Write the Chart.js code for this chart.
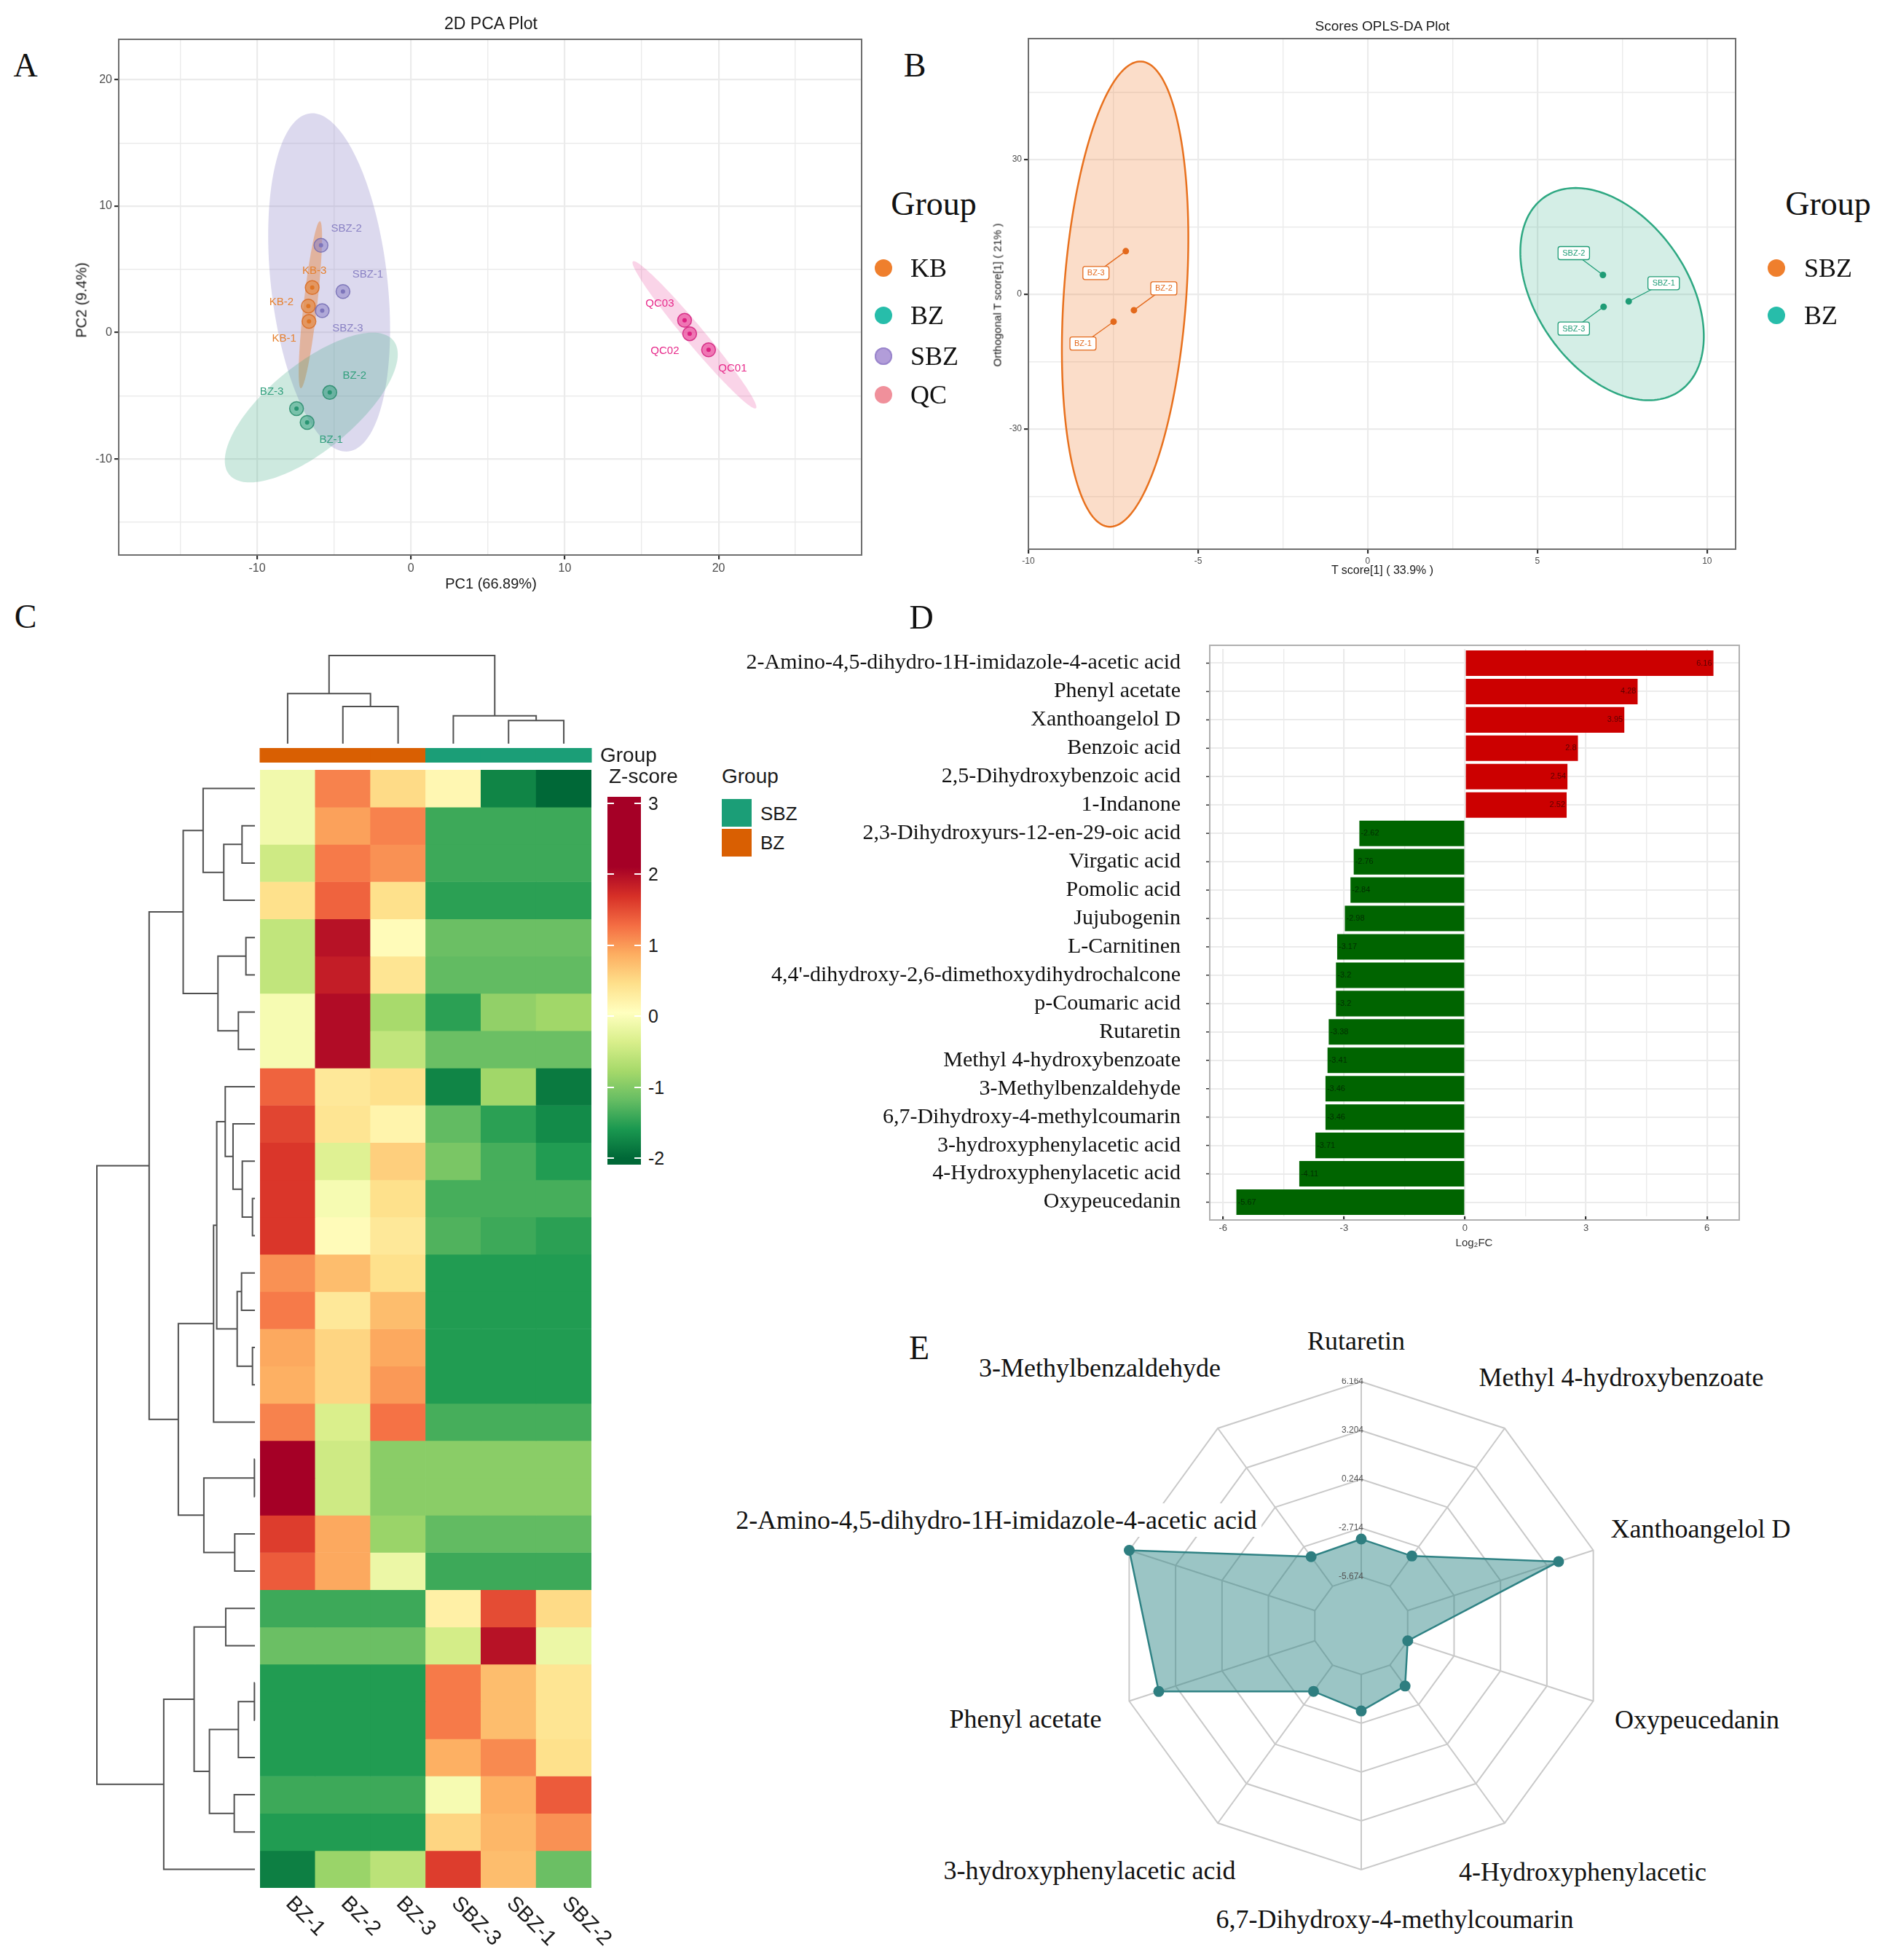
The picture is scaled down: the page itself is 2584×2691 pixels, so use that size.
<!DOCTYPE html>
<html>
<head>
<meta charset="utf-8">
<title>PCA / OPLS-DA / heatmap / fold change / radar</title>
<script src="https://cdn.jsdelivr.net/npm/chart.js@4.4.1/dist/chart.umd.min.js"></script>
<style>
  html, body { margin: 0; padding: 0; background: #fff; }
  #page { position: relative; width: 2584px; height: 2691px; overflow: hidden; background: #fff; }
  #page canvas { position: absolute; }
  .t { position: absolute; white-space: nowrap; line-height: 1; }
</style>
</head>
<body>
<div id="page"></div>
<script>
var SANS = "'Liberation Sans', Arial, Helvetica, sans-serif";
var SERIF = "'Liberation Serif', 'Times New Roman', serif";

// ---- A: 2D PCA scores ----
var pcaGroups = ['KB', 'BZ', 'SBZ', 'QC'];
var kbSamples = ['KB-1', 'KB-2', 'KB-3'];
var kbPC1 = [-6.63, -6.67, -6.42];
var kbPC2 = [0.88, 2.10, 3.56];
var bzSamples = ['BZ-1', 'BZ-2', 'BZ-3'];
var bzPC1 = [-6.75, -5.28, -7.44];
var bzPC2 = [-7.11, -4.74, -6.02];
var sbzSamples = ['SBZ-1', 'SBZ-2', 'SBZ-3'];
var sbzPC1 = [-4.42, -5.85, -5.77];
var sbzPC2 = [3.25, 6.90, 1.73];
var qcSamples = ['QC01', 'QC02', 'QC03'];
var qcPC1 = [19.35, 18.12, 17.79];
var qcPC2 = [-1.37, -0.09, 0.97];
var pcaTicksX = [-15, -10, -5, 0, 5, 10, 15, 20, 25];
var pcaTicksY = [-15, -10, -5, 0, 5, 10, 15, 20];
// confidence ellipses: centre and two conjugate half axes, in PC units
var pcaEllCentre = {KB: [-6.54, 2.20], BZ: [-6.48, -5.93], SBZ: [-5.32, 3.97], QC: [18.43, -0.18]};
var pcaEllU = {KB: [-0.62, -6.61], BZ: [-5.34, -5.30], SBZ: [1.25, -13.37], QC: [4.0, -5.81]};
var pcaEllV = {KB: [0.44, -0.06], BZ: [1.76, -2.65], SBZ: [3.76, 0.53], QC: [0.47, 0.48]};

// ---- B: OPLS-DA scores ----
var oplsGroups = ['SBZ', 'BZ'];
var oplsBzSamples = ['BZ-1', 'BZ-2', 'BZ-3'];
var oplsBzT = [-7.49, -6.89, -7.13];
var oplsBzO = [-6.14, -3.58, 9.56];
var oplsSbzSamples = ['SBZ-1', 'SBZ-2', 'SBZ-3'];
var oplsSbzT = [7.69, 6.93, 6.95];
var oplsSbzO = [-1.62, 4.27, -2.82];
var oplsTicksX = [-10, -7.5, -5, -2.5, 0, 2.5, 5, 7.5, 10];
var oplsTicksY = [-45, -30, -15, 0, 15, 30, 45];
var oplsEllCentre = {BZ: [-7.15, 0.0], SBZ: [7.2, 0.0]};
var oplsEllU = {BZ: [-0.48, -51.8], SBZ: [1.99, -21.6]};
var oplsEllV = {BZ: [1.80, -0.95], SBZ: [1.83, 9.6]};

// ---- C: heatmap (z-scores, rows top to bottom) ----
var hmSamples = ['BZ-1', 'BZ-2', 'BZ-3', 'SBZ-3', 'SBZ-1', 'SBZ-2'];
var hmGroup = ['BZ', 'BZ', 'BZ', 'SBZ', 'SBZ', 'SBZ'];
var zBZ1 = [-0.1, -0.1, -0.45, 0.45, -0.55, -0.55, -0.05, -0.05, 1.35, 1.55, 1.65, 1.65, 1.65, 1.05, 1.2, 0.9, 0.85, 1.15, 2.3, 2.3, 1.6, 1.4, -1.4, -1.15, -1.55, -1.55, -1.55, -1.4, -1.55, -1.8];
var zBZ2 = [1.15, 0.95, 1.2, 1.35, 1.95, 1.85, 2.0, 2.0, 0.35, 0.4, -0.3, -0.05, 0.1, 0.75, 0.35, 0.55, 0.55, -0.35, -0.45, -0.45, 0.9, 0.9, -1.4, -1.15, -1.55, -1.55, -1.55, -1.4, -1.55, -0.85];
var zBZ3 = [0.5, 1.15, 1.05, 0.45, 0.1, 0.4, -0.75, -0.55, 0.45, 0.2, 0.6, 0.45, 0.35, 0.45, 0.75, 0.9, 1.0, 1.25, -0.95, -0.95, -0.85, -0.15, -1.4, -1.15, -1.55, -1.55, -1.55, -1.4, -1.55, -0.6];
var zSBZ3 = [0.15, -1.4, -1.4, -1.5, -1.15, -1.2, -1.5, -1.15, -1.75, -1.2, -1.05, -1.35, -1.3, -1.55, -1.55, -1.55, -1.55, -1.35, -0.95, -0.95, -1.2, -1.4, 0.25, -0.4, 1.2, 1.2, 0.85, -0.05, 0.55, 1.6];
var zSBZ1 = [-1.75, -1.4, -1.4, -1.5, -1.15, -1.2, -0.9, -1.15, -0.8, -1.5, -1.35, -1.35, -1.4, -1.55, -1.55, -1.55, -1.55, -1.35, -0.95, -0.95, -1.2, -1.4, 1.5, 1.95, 0.75, 0.75, 1.1, 0.85, 0.8, 0.75];
var zSBZ2 = [-2.0, -1.4, -1.4, -1.5, -1.15, -1.2, -0.8, -1.15, -1.85, -1.7, -1.55, -1.35, -1.5, -1.55, -1.55, -1.55, -1.55, -1.35, -0.95, -0.95, -1.2, -1.4, 0.5, -0.15, 0.4, 0.4, 0.45, 1.4, 1.05, -1.15];
var zTicks = [3, 2, 1, 0, -1, -2];
// hclust style merges: negative = leaf number, positive = earlier merge
var rowMergeA = [-19, -25, -12, -16, -5, -11, -2, -14, -7, 2, 8, -21, -28, -10, -23, -9, 7, 5, 16, 19, 10, 1, -1, 15, 23, 20, 24, 25, 28];
var rowMergeB = [-20, -26, -13, -17, -6, 3, -3, -15, -8, -27, 4, -22, -29, 6, -24, 14, -4, 9, 11, -18, 13, 12, 17, 21, 18, 22, -30, 26, 27];
var rowMergeH = [2, 2, 10, 10, 37, 52, 53, 55, 68, 68, 73, 83, 85, 90, 120, 122, 128, 152, 157, 170, 187, 210, 213, 250, 295, 315, 375, 435, 650];
var colMergeA = [-5, -4, -2, -1, 4];
var colMergeB = [-6, 1, -3, 3, 2];
var colMergeH = [50, 60, 80, 108, 190];

// ---- D: log2 fold change ----
var metabolites = ['2-Amino-4,5-dihydro-1H-imidazole-4-acetic acid', 'Phenyl acetate', 'Xanthoangelol D', 'Benzoic acid',
  '2,5-Dihydroxybenzoic acid', '1-Indanone', '2,3-Dihydroxyurs-12-en-29-oic acid', 'Virgatic acid', 'Pomolic acid',
  'Jujubogenin', 'L-Carnitinen', "4,4'-dihydroxy-2,6-dimethoxydihydrochalcone", 'p-Coumaric acid', 'Rutaretin',
  'Methyl 4-hydroxybenzoate', '3-Methylbenzaldehyde', '6,7-Dihydroxy-4-methylcoumarin', '3-hydroxyphenylacetic acid',
  '4-Hydroxyphenylacetic acid', 'Oxypeucedanin'];
var log2FC = [6.16, 4.28, 3.95, 2.8, 2.54, 2.52, -2.62, -2.76, -2.84, -2.98, -3.17, -3.2, -3.2, -3.38, -3.41, -3.46, -3.46, -3.71, -4.11, -5.67];
var fcTicks = [-6, -4.5, -3, -1.5, 0, 1.5, 3, 4.5, 6];

// ---- E: radar ----
var radarLabels = ['Rutaretin', 'Methyl 4-hydroxybenzoate', 'Xanthoangelol D', 'Oxypeucedanin', '4-Hydroxyphenylacetic',
  '6,7-Dihydroxy-4-methylcoumarin', '3-hydroxyphenylacetic acid', 'Phenyl acetate',
  '2-Amino-4,5-dihydro-1H-imidazole-4-acetic  acid', '3-Methylbenzaldehyde'];
var radarValues = [-3.38, -3.41, 3.95, -5.67, -4.11, -3.46, -3.71, 4.28, 6.16, -3.46];
var radarRings = [-5.674, -2.714, 0.244, 3.204, 6.164];

// ---------------------------------------------------------------
Chart.defaults.responsive = false;
Chart.defaults.animation = false;
Chart.defaults.devicePixelRatio = 1;
Chart.defaults.plugins.legend.display = false;
Chart.defaults.plugins.tooltip.enabled = false;
Chart.defaults.font.family = SANS;
Chart.defaults.color = '#4d4d4d';

var page = document.getElementById('page');

function makeCanvas(left, top, w, h) {
  var c = document.createElement('canvas');
  c.width = w; c.height = h;
  c.style.left = left + 'px'; c.style.top = top + 'px';
  c.style.width = w + 'px'; c.style.height = h + 'px';
  page.appendChild(c);
  return c;
}

function addText(txt, x, y, font, opts) {
  opts = opts || {};
  var d = document.createElement('div');
  d.className = 't';
  d.textContent = txt;
  d.style.left = x + 'px';
  d.style.top = y + 'px';
  d.style.font = font;
  d.style.color = opts.color || '#1a1a1a';
  if (opts.bg) { d.style.background = opts.bg; d.style.padding = '2px 6px'; }
  var tx = {left: '0', center: '-50%', right: '-100%'}[opts.align || 'center'];
  d.style.transform = 'translate(' + tx + ', -50%)' + (opts.rotate ? ' rotate(' + opts.rotate + 'deg)' : '');
  page.appendChild(d);
  return d;
}

function addBox(x, y, w, h, css) {
  var d = document.createElement('div');
  d.style.cssText = 'position:absolute;left:' + x + 'px;top:' + y + 'px;width:' + w + 'px;height:' + h + 'px;' + (css || '');
  page.appendChild(d);
  return d;
}

function hexRgb(hex) {
  var n = parseInt(hex.slice(1), 16);
  return [n >> 16, (n >> 8) & 255, n & 255];
}
function rgba(hex, a) {
  var c = hexRgb(hex);
  return 'rgba(' + c[0] + ',' + c[1] + ',' + c[2] + ',' + a + ')';
}
function mix(h1, h2, t) {
  var a = hexRgb(h1), b = hexRgb(h2);
  return 'rgb(' + a.map(function (v, i) { return Math.round(v + (b[i] - v) * t); }).join(',') + ')';
}

function pts(xs, ys) {
  return xs.map(function (v, i) { return {x: v, y: ys[i]}; });
}

// ggplot-like linear axis: major + minor grid, labels only on majors
function ggScale(min, max, ticks, every, size, fit) {
  var isMajor = function (v) { return Math.abs(v / every - Math.round(v / every)) < 1e-6; };
  return {
    type: 'linear', min: min, max: max,
    afterBuildTicks: function (s) { s.ticks = ticks.map(function (v) { return {value: v}; }); },
    afterFit: fit,
    ticks: {
      autoSkip: false, maxRotation: 0, minRotation: 0, padding: 3, color: '#4d4d4d', font: {size: size},
      callback: function (v) { return isMajor(v) ? String(v) : ''; }
    },
    grid: {
      color: '#ebebeb',
      lineWidth: function (c) { return c.tick && isMajor(c.tick.value) ? 2.2 : 1.4; },
      tickColor: function (c) { return c.tick && isMajor(c.tick.value) ? '#333333' : 'rgba(0,0,0,0)'; },
      tickLength: 6
    },
    border: {display: false}
  };
}

function makeFrame(color, width, padY) {
  return {
    id: 'frame',
    afterDraw: function (chart) {
      var a = chart.chartArea, ctx = chart.ctx;
      ctx.save();
      ctx.strokeStyle = color; ctx.lineWidth = width;
      ctx.strokeRect(a.left, a.top - padY, a.right - a.left, a.bottom - a.top + 2 * padY);
      ctx.restore();
    }
  };
}

function makeEllipses(list) {
  return {
    id: 'ellipses',
    beforeDatasetsDraw: function (chart) {
      var ctx = chart.ctx, a = chart.chartArea, xs = chart.scales.x, ys = chart.scales.y;
      ctx.save();
      ctx.beginPath(); ctx.rect(a.left, a.top, a.right - a.left, a.bottom - a.top); ctx.clip();
      list.forEach(function (e) {
        ctx.beginPath();
        for (var k = 0; k <= 180; k++) {
          var t = k / 180 * Math.PI * 2;
          var px = xs.getPixelForValue(e.c[0] + Math.cos(t) * e.u[0] + Math.sin(t) * e.v[0]);
          var py = ys.getPixelForValue(e.c[1] + Math.cos(t) * e.u[1] + Math.sin(t) * e.v[1]);
          if (k) ctx.lineTo(px, py); else ctx.moveTo(px, py);
        }
        ctx.closePath();
        ctx.fillStyle = e.fill; ctx.fill();
        if (e.stroke) { ctx.strokeStyle = e.stroke; ctx.lineWidth = 2.5; ctx.stroke(); }
      });
      ctx.restore();
    }
  };
}

// ---------------- panel A ----------------
var pcaColor = {KB: '#E6812F', BZ: '#33A07E', SBZ: '#8A82C4', QC: '#E7298A'};
var pcaDot = {KB: '#D8661A', BZ: '#1E8664', SBZ: '#6E66B0', QC: '#D01577'};
var pcaFill = {KB: rgba('#E67E30', 0.42), BZ: rgba('#3CAA82', 0.26), SBZ: rgba('#8C82C8', 0.30), QC: rgba('#E7298A', 0.20)};
var pcaSets = [
  {g: 'SBZ', names: sbzSamples, x: sbzPC1, y: sbzPC2},
  {g: 'KB', names: kbSamples, x: kbPC1, y: kbPC2},
  {g: 'BZ', names: bzSamples, x: bzPC1, y: bzPC2},
  {g: 'QC', names: qcSamples, x: qcPC1, y: qcPC2}
];
var pcaLabelShift = {
  'KB-1': [-34, 24], 'KB-2': [-37, -5], 'KB-3': [3, -23],
  'BZ-1': [33, 24], 'BZ-2': [34, -23], 'BZ-3': [-34, -23],
  'SBZ-1': [34, -23], 'SBZ-2': [35, -23], 'SBZ-3': [35, 24],
  'QC01': [33, 25], 'QC02': [-34, 24], 'QC03': [-34, -23]
};

var pcaDatasets = [];
pcaSets.forEach(function (s) {
  pcaDatasets.push({label: s.g, data: pts(s.x, s.y), pointRadius: 9.5,
    backgroundColor: rgba(pcaColor[s.g], 0.55), borderColor: rgba(pcaDot[s.g], 0.8), borderWidth: 1.5});
  pcaDatasets.push({label: s.g + ' core', data: pts(s.x, s.y), pointRadius: 3,
    backgroundColor: pcaDot[s.g], borderWidth: 0});
});

var pcaTags = {
  id: 'pcaTags',
  afterDatasetsDraw: function (chart) {
    var ctx = chart.ctx, xs = chart.scales.x, ys = chart.scales.y;
    ctx.save();
    ctx.font = '15px ' + SANS; ctx.textAlign = 'center'; ctx.textBaseline = 'middle';
    pcaSets.forEach(function (s) {
      ctx.fillStyle = pcaColor[s.g];
      s.names.forEach(function (n, i) {
        ctx.fillText(n, xs.getPixelForValue(s.x[i]) + pcaLabelShift[n][0], ys.getPixelForValue(s.y[i]) + pcaLabelShift[n][1]);
      });
    });
    ctx.restore();
  }
};

new Chart(makeCanvas(60, 0, 1160, 830), {
  type: 'scatter',
  data: {datasets: pcaDatasets},
  options: {
    layout: {padding: {left: 0, right: 37, top: 54, bottom: 0}},
    scales: {
      x: ggScale(-19, 29.3, pcaTicksX, 10, 16, function (s) { s.height = 68; }),
      y: ggScale(-17.6, 23.2, pcaTicksY, 10, 16, function (s) { s.width = 103; })
    }
  },
  plugins: [makeEllipses(pcaSets.map(function (s) {
    return {c: pcaEllCentre[s.g], u: pcaEllU[s.g], v: pcaEllV[s.g], fill: pcaFill[s.g]};
  })), pcaTags, makeFrame('#6e6e6e', 2, 0)]
});

addText('2D PCA Plot', 674, 32, '23px ' + SANS, {color: '#1a1a1a'});
addText('PC1 (66.89%)', 674, 801, '20px ' + SANS, {color: '#1a1a1a'});
addText('PC2 (9.4%)', 112, 412, '20px ' + SANS, {color: '#1a1a1a', rotate: -90});
addText('A', 35, 89, '46px ' + SERIF, {color: '#111'});

// legend A
var legA = {KB: '#EF7F2D', BZ: '#27BDAA', SBZ: '#B29DD9', QC: '#F0909B'};
var legAy = [368, 433, 489, 542];
addText('Group', 1282, 279, '46px ' + SERIF, {color: '#111'});
pcaGroups.forEach(function (g, i) {
  addBox(1201, legAy[i] - 12, 24, 24, 'border-radius:50%;background:' + legA[g] + (g === 'SBZ' ? ';box-shadow:inset 0 0 0 2px #9a86cc' : ''));
  addText(g, 1250, legAy[i], '36px ' + SERIF, {align: 'left', color: '#111'});
});

// ---------------- panel B ----------------
var oplsColor = {BZ: '#E3691C', SBZ: '#1F9C76'};
var oplsSets = [
  {g: 'BZ', names: oplsBzSamples, x: oplsBzT, y: oplsBzO},
  {g: 'SBZ', names: oplsSbzSamples, x: oplsSbzT, y: oplsSbzO}
];
var oplsLabelShift = {
  'BZ-1': [-42, 30], 'BZ-2': [41, -30], 'BZ-3': [-41, 30],
  'SBZ-1': [48, -25], 'SBZ-2': [-40, -30], 'SBZ-3': [-41, 30]
};

var oplsTags = {
  id: 'oplsTags',
  afterDatasetsDraw: function (chart) {
    var ctx = chart.ctx, xs = chart.scales.x, ys = chart.scales.y;
    ctx.save();
    ctx.font = '11px ' + SANS; ctx.textAlign = 'center'; ctx.textBaseline = 'middle';
    oplsSets.forEach(function (s) {
      s.names.forEach(function (n, i) {
        var px = xs.getPixelForValue(s.x[i]), py = ys.getPixelForValue(s.y[i]);
        var lx = px + oplsLabelShift[n][0], ly = py + oplsLabelShift[n][1];
        var w = ctx.measureText(n).width + 12, h = 18;
        ctx.strokeStyle = oplsColor[s.g]; ctx.lineWidth = 1.3;
        ctx.beginPath(); ctx.moveTo(px, py); ctx.lineTo(lx, ly); ctx.stroke();
        ctx.beginPath();
        if (ctx.roundRect) ctx.roundRect(lx - w / 2, ly - h / 2, w, h, 3); else ctx.rect(lx - w / 2, ly - h / 2, w, h);
        ctx.fillStyle = '#fff'; ctx.fill(); ctx.stroke();
        ctx.fillStyle = oplsColor[s.g];
        ctx.fillText(n, lx, ly + 0.5);
      });
    });
    ctx.restore();
  }
};

new Chart(makeCanvas(1290, 0, 1140, 830), {
  type: 'scatter',
  data: {datasets: oplsSets.map(function (s) {
    return {label: s.g, data: pts(s.x, s.y), pointRadius: 4.5, backgroundColor: oplsColor[s.g], borderWidth: 0};
  })},
  options: {
    layout: {padding: {left: 0, right: 47, top: 53, bottom: 0}},
    scales: {
      x: ggScale(-10, 10.84, oplsTicksX, 5, 12, function (s) { s.height = 76; }),
      y: ggScale(-56.8, 56.9, oplsTicksY, 30, 12, function (s) { s.width = 122; })
    }
  },
  plugins: [makeEllipses([
    {c: oplsEllCentre.BZ, u: oplsEllU.BZ, v: oplsEllV.BZ, fill: rgba('#F07A2E', 0.26), stroke: '#E8711E'},
    {c: oplsEllCentre.SBZ, u: oplsEllU.SBZ, v: oplsEllV.SBZ, fill: rgba('#2AAA82', 0.2), stroke: '#2EA882'}
  ]), oplsTags, makeFrame('#6e6e6e', 2, 0)]
});

addText('Scores OPLS-DA Plot', 1898, 36, '19px ' + SANS, {color: '#1a1a1a'});
addText('T score[1] ( 33.9% )', 1898, 783, '16px ' + SANS, {color: '#1a1a1a'});
addText('Orthogonal T score[1] ( 21% )', 1369, 405, '15px ' + SANS, {color: '#1a1a1a', rotate: -90});
addText('B', 1256, 89, '46px ' + SERIF, {color: '#111'});

var legB = {SBZ: '#EF7F2D', BZ: '#27BDAA'};
addText('Group', 2510, 279, '46px ' + SERIF, {color: '#111'});
oplsGroups.forEach(function (g, i) {
  addBox(2427, legAy[i] - 12, 24, 24, 'border-radius:50%;background:' + legB[g]);
  addText(g, 2477, legAy[i], '36px ' + SERIF, {align: 'left', color: '#111'});
});

// ---------------- panel C ----------------
var zStops = [-2.0, -1.59, -1.18, -0.77, -0.36, 0.05, 0.46, 0.87, 1.28, 1.69, 2.1];
var zColors = ['#006837', '#1a9850', '#66bd63', '#a6d96a', '#d9ef8b', '#ffffbf', '#fee08b', '#fdae61', '#f46d43', '#d73027', '#a50026'];
function zColor(v) {
  if (v <= zStops[0]) return zColors[0];
  for (var i = 1; i < zStops.length; i++) {
    if (v <= zStops[i]) return mix(zColors[i - 1], zColors[i], (v - zStops[i - 1]) / (zStops[i] - zStops[i - 1]));
  }
  return zColors[zColors.length - 1];
}
var groupColor = {BZ: '#D95F02', SBZ: '#1B9E77'};
var zColumns = [zBZ1, zBZ2, zBZ3, zSBZ3, zSBZ1, zSBZ2];
var nRows = zBZ1.length;

var hmDatasets = [];
for (var r = 0; r < nRows; r++) {
  hmDatasets.push({
    label: 'row ' + (r + 1),
    data: hmSamples.map(function () { return 1; }),
    backgroundColor: zColumns.map(function (col) { return zColor(col[r]); }),
    borderWidth: 0, barPercentage: 1, categoryPercentage: 1
  });
}

var hmDecor = {
  id: 'hmDecor',
  afterDraw: function (chart) {
    var ctx = chart.ctx, xs = chart.scales.x, a = chart.chartArea;
    var w = (a.right - a.left) / hmSamples.length;
    ctx.save();
    hmSamples.forEach(function (s, i) {
      var cx = xs.getPixelForValue(i);
      ctx.fillStyle = groupColor[hmGroup[i]];
      ctx.fillRect(cx - w / 2 - 0.5, a.top - 30, w + 1, 20);
      ctx.save();
      ctx.translate(cx + 2, a.bottom + 17);
      ctx.rotate(Math.PI / 4);
      ctx.font = '29px ' + SANS; ctx.fillStyle = '#1a1a1a';
      ctx.textAlign = 'left'; ctx.textBaseline = 'middle';
      ctx.fillText(s, 0, 0);
      ctx.restore();
    });
    ctx.restore();
  }
};

new Chart(makeCanvas(340, 1010, 520, 1681), {
  type: 'bar',
  data: {labels: hmSamples, datasets: hmDatasets},
  options: {
    layout: {padding: {left: 17, right: 48, top: 47, bottom: 99}},
    scales: {
      x: {stacked: true, display: false},
      y: {stacked: true, display: false, min: 0, max: nRows, reverse: true}
    }
  },
  plugins: [hmDecor]
});

function dendroLines(mA, mB, mH) {
  var pos = [], ht = [], lines = [];
  function at(ref) { return ref < 0 ? [-ref, 0] : [pos[ref - 1], ht[ref - 1]]; }
  for (var i = 0; i < mA.length; i++) {
    var a = at(mA[i]), b = at(mB[i]);
    pos.push((a[0] + b[0]) / 2);
    ht.push(mH[i]);
    lines.push([[a[0], a[1]], [a[0], mH[i]], [b[0], mH[i]], [b[0], b[1]]]);
  }
  return lines;
}

// row dendrogram (height on x, leaf on y)
new Chart(makeCanvas(120, 1057, 236, 1535), {
  type: 'scatter',
  data: {datasets: dendroLines(rowMergeA, rowMergeB, rowMergeH).map(function (l) {
    return {data: l.map(function (p) { return {x: p[1], y: p[0]}; }), showLine: true, pointRadius: 0,
      borderColor: '#505050', borderWidth: 2, clip: false};
  })},
  options: {
    layout: {padding: {left: 13, right: 6, top: 0, bottom: 0}},
    scales: {
      x: {type: 'linear', display: false, min: 0, max: 650, reverse: true},
      y: {type: 'linear', display: false, min: 0.5, max: nRows + 0.5, reverse: true}
    }
  }
});

// column dendrogram
new Chart(makeCanvas(357, 895, 455, 130), {
  type: 'scatter',
  data: {datasets: dendroLines(colMergeA, colMergeB, colMergeH).map(function (l) {
    return {data: l.map(function (p) { return {x: p[0], y: p[1]}; }), showLine: true, pointRadius: 0,
      borderColor: '#505050', borderWidth: 2, clip: false};
  })},
  options: {
    layout: {padding: {left: 0, right: 0, top: 5, bottom: 4}},
    scales: {
      x: {type: 'linear', display: false, min: 0.5, max: hmSamples.length + 0.5},
      y: {type: 'linear', display: false, min: 0, max: 190}
    }
  }
});

addText('C', 35, 846, '46px ' + SERIF, {color: '#111'});
addText('Group', 824, 1037, '28px ' + SANS, {align: 'left', color: '#1a1a1a'});
addText('Z-score', 836, 1066, '28px ' + SANS, {align: 'left', color: '#1a1a1a'});

// colour key
var keyTop = 1094, keyBottom = 1599, keyHi = 3.09, keyLo = -2.09;
var keyPx = (keyBottom - keyTop) / (keyHi - keyLo);
var grad = [zColors[zColors.length - 1] + ' 0%'];
for (var s = zStops.length - 1; s >= 0; s--) {
  grad.push(zColors[s] + ' ' + ((keyHi - zStops[s]) / (keyHi - keyLo) * 100).toFixed(2) + '%');
}
grad.push(zColors[0] + ' 100%');
addBox(834, keyTop, 46, keyBottom - keyTop, 'background:linear-gradient(to bottom,' + grad.join(',') + ')');
zTicks.forEach(function (v) {
  var y = keyTop + (keyHi - v) * keyPx;
  addBox(834, y - 1, 9, 2, 'background:#fff');
  addBox(871, y - 1, 9, 2, 'background:#fff');
  addText(String(v), 890, y, '25px ' + SANS, {align: 'left', color: '#1a1a1a'});
});

addText('Group', 991, 1066, '28px ' + SANS, {align: 'left', color: '#1a1a1a'});
addBox(991, 1097, 41, 38, 'background:' + groupColor.SBZ);
addBox(991, 1138, 41, 38, 'background:' + groupColor.BZ);
addText('SBZ', 1044, 1117, '26px ' + SANS, {align: 'left', color: '#1a1a1a'});
addText('BZ', 1044, 1157, '26px ' + SANS, {align: 'left', color: '#1a1a1a'});

// ---------------- panel D ----------------
var fcLabels = {
  id: 'fcLabels',
  afterDatasetsDraw: function (chart) {
    var ctx = chart.ctx, ys = chart.scales.y, a = chart.chartArea;
    ctx.save();
    // short ggplot style tick marks on the category axis
    ctx.strokeStyle = '#333'; ctx.lineWidth = 1.5;
    metabolites.forEach(function (m, i) {
      var y = ys.getPixelForTick(i);
      ctx.beginPath(); ctx.moveTo(a.left - 5, y); ctx.lineTo(a.left, y); ctx.stroke();
    });
    ctx.font = '11px ' + SANS; ctx.textBaseline = 'middle'; ctx.fillStyle = 'rgba(0,0,0,0.55)';
    chart.getDatasetMeta(0).data.forEach(function (bar, i) {
      var v = log2FC[i];
      ctx.textAlign = v > 0 ? 'right' : 'left';
      ctx.fillText(String(v), v > 0 ? bar.x - 2 : bar.x + 2, bar.y);
    });
    ctx.restore();
  }
};

new Chart(makeCanvas(1000, 860, 1420, 880), {
  type: 'bar',
  data: {
    labels: metabolites,
    datasets: [{
      label: 'Log2FC', data: log2FC,
      backgroundColor: log2FC.map(function (v) { return v > 0 ? '#CC0000' : '#006400'; }),
      borderWidth: 0, barPercentage: 0.9, categoryPercentage: 1
    }]
  },
  options: {
    indexAxis: 'y',
    layout: {padding: {left: 0, right: 32, top: 31, bottom: 0}},
    scales: {
      x: ggScale(-6.33, 6.8, fcTicks, 3, 13, function (s) { s.height = 70; }),
      y: {
        afterFit: function (s) { s.width = 661; },
        ticks: {autoSkip: false, padding: 8, color: '#111', font: {family: SERIF, size: 30}},
        grid: {color: '#ebebeb', lineWidth: 2, offset: false, tickLength: 32, tickColor: 'rgba(0,0,0,0)'},
        border: {display: false}
      }
    }
  },
  plugins: [fcLabels, makeFrame('#b0b0b0', 2, 5)]
});

addText('D', 1265, 847, '46px ' + SERIF, {color: '#111'});
addText('Log\u2082FC', 2024, 1705, '15px ' + SANS, {color: '#333'});

// ---------------- panel E ----------------
var radarMin = -8.6334, radarMax = 6.3845;
var radarDecor = {
  id: 'radarDecor',
  beforeDatasetsDraw: function (chart) {
    var sc = chart.scales.r, ctx = chart.ctx;
    var d0 = sc.getDistanceFromCenterForValue(radarRings[0]);
    var d1 = sc.getDistanceFromCenterForValue(radarRings[radarRings.length - 1]);
    ctx.save();
    ctx.strokeStyle = '#c9c9c9'; ctx.lineWidth = 2;
    radarLabels.forEach(function (l, i) {
      var p0 = sc.getPointPosition(i, d0), p1 = sc.getPointPosition(i, d1);
      ctx.beginPath(); ctx.moveTo(p0.x, p0.y); ctx.lineTo(p1.x, p1.y); ctx.stroke();
    });
    ctx.restore();
  },
  afterDatasetsDraw: function (chart) {
    var sc = chart.scales.r, ctx = chart.ctx;
    ctx.save();
    ctx.font = '12px ' + SANS; ctx.fillStyle = '#555'; ctx.textAlign = 'right'; ctx.textBaseline = 'middle';
    radarRings.forEach(function (v) {
      var p = sc.getPointPosition(0, sc.getDistanceFromCenterForValue(v));
      ctx.fillText(String(v), p.x + 3, p.y);
    });
    ctx.restore();
  }
};

new Chart(makeCanvas(1529, 1892, 680, 680), {
  type: 'radar',
  data: {
    labels: radarLabels,
    datasets: [{
      label: 'Log2FC', data: radarValues, fill: 'start',
      backgroundColor: 'rgba(46,134,134,0.48)', borderColor: '#2f8284', borderWidth: 2.5,
      pointRadius: 7.5, pointBackgroundColor: '#2e7e80', pointBorderWidth: 0
    }]
  },
  options: {
    layout: {padding: 0},
    scales: {
      r: {
        min: radarMin, max: radarMax,
        afterBuildTicks: function (s) { s.ticks = [radarMin].concat(radarRings).map(function (v) { return {value: v}; }); },
        ticks: {display: false},
        pointLabels: {display: false},
        angleLines: {display: false},
        grid: {color: '#c9c9c9', lineWidth: 2, circular: false}
      }
    }
  },
  plugins: [radarDecor]
});

addText('E', 1262, 1850, '46px ' + SERIF, {color: '#111'});
var radarLabelAt = [[1862, 1841], [2226, 1891], [2335, 2099], [2330, 2361], [2173, 2570],
  [1915, 2635], [1496, 2568], [1408, 2360], [1368, 2087], [1510, 1878]];
radarLabels.forEach(function (l, i) {
  addText(l, radarLabelAt[i][0], radarLabelAt[i][1], '36px ' + SERIF, {color: '#111', bg: '#fff'});
});
</script>
</body>
</html>
